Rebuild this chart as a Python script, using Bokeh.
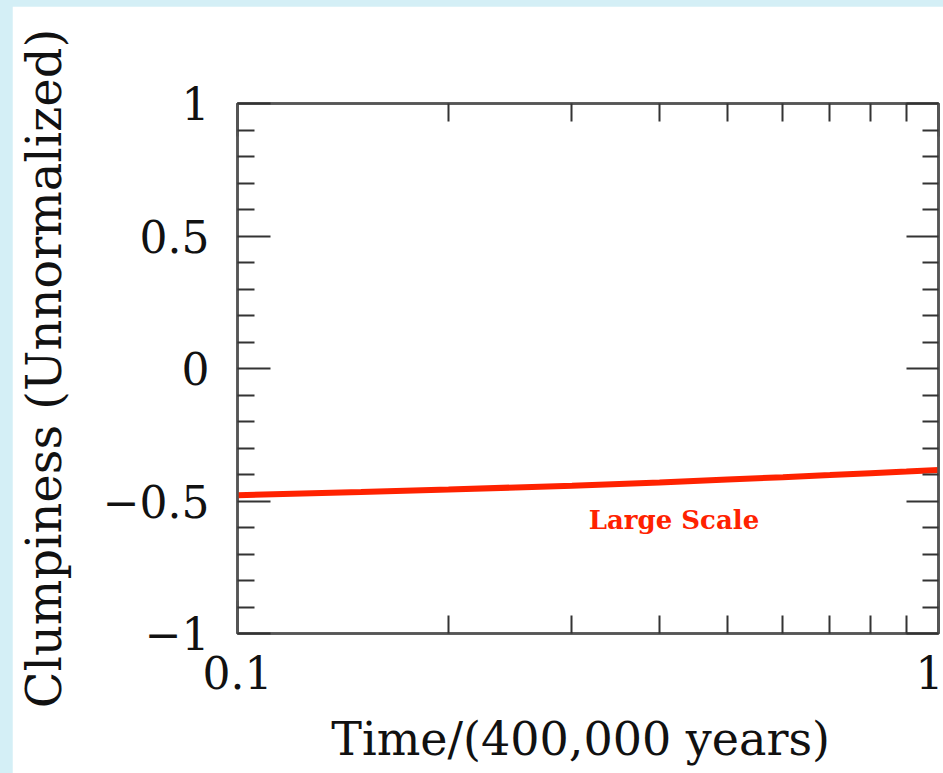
from bokeh.plotting import figure
from bokeh.models import LogAxis, LinearAxis, FixedTicker, CustomJSTickFormatter
from bokeh.layouts import column
from bokeh.embed import file_html
from bokeh.resources import INLINE
from bokeh.core.properties import value

# Large-scale clumpiness versus time (in units of 400,000 years)
time = [0.1, 0.15, 0.2, 0.3, 0.4, 0.5, 0.6, 0.7, 0.8, 0.9, 1.0]
clumpiness = [-0.478, -0.466, -0.457, -0.442, -0.430, -0.419,
              -0.410, -0.402, -0.395, -0.389, -0.383]
series_label = "Large Scale"

x_major = [0.1, 1.0]
x_minor = [0.2, 0.3, 0.4, 0.5, 0.6, 0.7, 0.8, 0.9]
y_major = [-1.0, -0.5, 0.0, 0.5, 1.0]
y_minor = [-0.9, -0.8, -0.7, -0.6, -0.4, -0.3, -0.2, -0.1,
           0.1, 0.2, 0.3, 0.4, 0.6, 0.7, 0.8, 0.9]

x_title = "Time/(400,000  years)"
y_title = "Clumpiness (Unnormalized)"

SERIF = "DejaVu Serif"
RED = "#ff2200"
FRAME = "#555555"
INK = "#111111"

p = figure(width=931, height=767, x_axis_type="log",
           x_range=(0.1, 1.0), y_range=(-1.0, 1.0),
           min_border_left=224, min_border_right=5,
           min_border_top=97, min_border_bottom=140,
           output_backend="svg", toolbar_location=None)
p.background_fill_color = "white"
p.border_fill_color = "white"
p.outline_line_color = FRAME
p.outline_line_width = 2.5
p.xgrid.visible = False
p.ygrid.visible = False

xticker = FixedTicker(ticks=x_major, minor_ticks=x_minor)
yticker = FixedTicker(ticks=y_major, minor_ticks=y_minor)
num_fmt = CustomJSTickFormatter(
    code="return tick < 0 ? '\\u2212' + String(Math.abs(tick)) : String(tick);")
blank_fmt = CustomJSTickFormatter(code="return '';")


def style_axis(ax, major_len, minor_len):
    ax.axis_line_color = FRAME
    ax.axis_line_width = 2.5
    ax.major_tick_line_color = "#333333"
    ax.minor_tick_line_color = "#333333"
    ax.major_tick_line_width = 2
    ax.minor_tick_line_width = 2
    ax.major_tick_in = major_len
    ax.major_tick_out = 0
    ax.minor_tick_in = minor_len
    ax.minor_tick_out = 0
    ax.major_label_text_font = SERIF
    ax.major_label_text_font_size = "44px"
    ax.major_label_text_color = INK
    ax.axis_label_text_font = SERIF
    ax.axis_label_text_font_size = "48px"
    ax.axis_label_text_font_style = "normal"
    ax.axis_label_text_color = INK


xax = p.xaxis[0]
xax.ticker = xticker
xax.formatter = num_fmt
style_axis(xax, 33, 18)
xax.major_label_standoff = 22
xax.axis_label = x_title
xax.axis_label_text_font_size = "46px"
xax.axis_label_standoff = 20

yax = p.yaxis[0]
yax.ticker = yticker
yax.formatter = num_fmt
style_axis(yax, 33, 17)
yax.major_label_standoff = 28
yax.axis_label = y_title
yax.axis_label_standoff = 28

top = LogAxis(ticker=xticker, formatter=blank_fmt)
style_axis(top, 33, 18)
top.major_label_text_font_size = "0px"
top.major_label_standoff = 0
p.add_layout(top, "above")

right = LinearAxis(ticker=yticker, formatter=blank_fmt)
style_axis(right, 32, 16)
right.major_label_text_font_size = "0px"
right.major_label_standoff = 0
p.add_layout(right, "right")

p.line(time, clumpiness, line_color=RED, line_width=6)
p.text(x=[0.317], y=[-0.572], text=[series_label],
       text_font=value(SERIF), text_font_style="bold",
       text_font_size="26px", text_color=RED,
       text_align="left", text_baseline="middle")

page = column(p, styles={"background-color": "#d4eff6",
                         "padding": "6px 0px 0px 12px"})

open("out.html", "w").write(file_html(page, INLINE))
